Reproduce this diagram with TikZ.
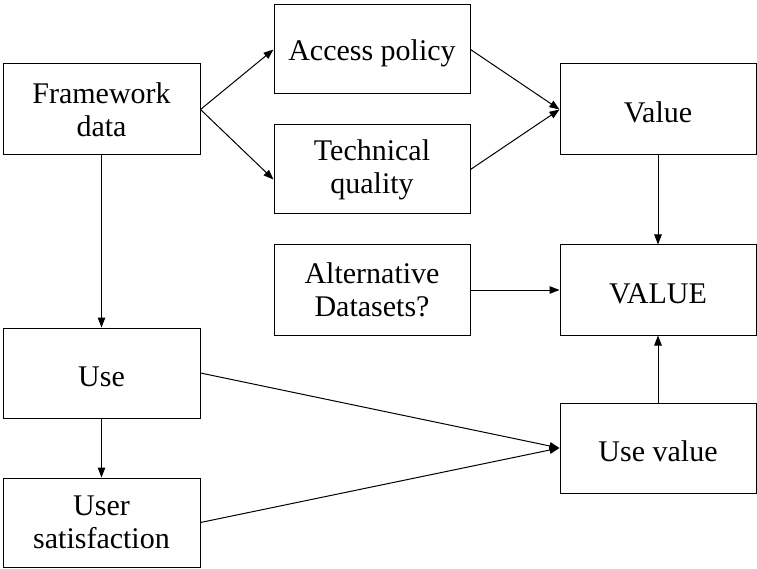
\documentclass[tikz,border=0pt]{standalone}
\usepackage{fontspec}
\setmainfont{Liberation Serif}
\usetikzlibrary{arrows.meta,calc}
\begin{document}
\begin{tikzpicture}[x=1pt,y=-1pt,
  box/.style={draw,line width=1pt,minimum width=196pt,minimum height=90pt,align=center,inner sep=0pt,
    font=\fontsize{30}{33}\selectfont,execute at begin node={\rule{0pt}{27pt}}},
  arr/.style={line width=1pt,-{Triangle[length=10pt,width=7.5pt]}}]
\useasboundingbox (0,0) rectangle (757,569);
\node[box,minimum width=197pt,minimum height=91pt] (fw) at (101.5,109.5) {Framework\\data};
\node[box,minimum height=89pt,execute at begin node={\rule{0pt}{29pt}}] (ap) at (372,49.5) {Access policy};
\node[box,minimum height=89pt] (tq) at (372,169.5) {Technical\\quality};
\node[box,minimum height=91pt] (val) at (658,109.5) {Value};
\node[box] (alt) at (372,290) {Alternative\\Datasets?};
\node[box] (VAL) at (658,290) {VALUE};
\node[box,minimum width=197pt] (use) at (101.5,373) {Use};
\node[box,minimum width=197pt,minimum height=89pt] (us) at (101.5,522.5) {User\\satisfaction};
\node[box] (uv) at (658,448) {Use value};
\coordinate (tqin) at ($(tq.west)+(0,10)$);
\draw[arr] (fw.east) -- (ap.west);
\draw[arr] (fw.east) -- (tqin);
\draw[arr] (ap.east) -- (val.west);
\draw[arr] (tq.east) -- (val.west);
\draw[arr] (fw.south) -- (use.north);
\draw[arr] (use.south) -- (us.north);
\draw[arr] (val.south) -- (VAL.north);
\draw[arr] (alt.east) -- (VAL.west);
\draw[arr] (uv.north) -- (VAL.south);
\draw[arr] (use.east) -- (uv.west);
\draw[arr] (us.east) -- (uv.west);
\end{tikzpicture}
\end{document}
